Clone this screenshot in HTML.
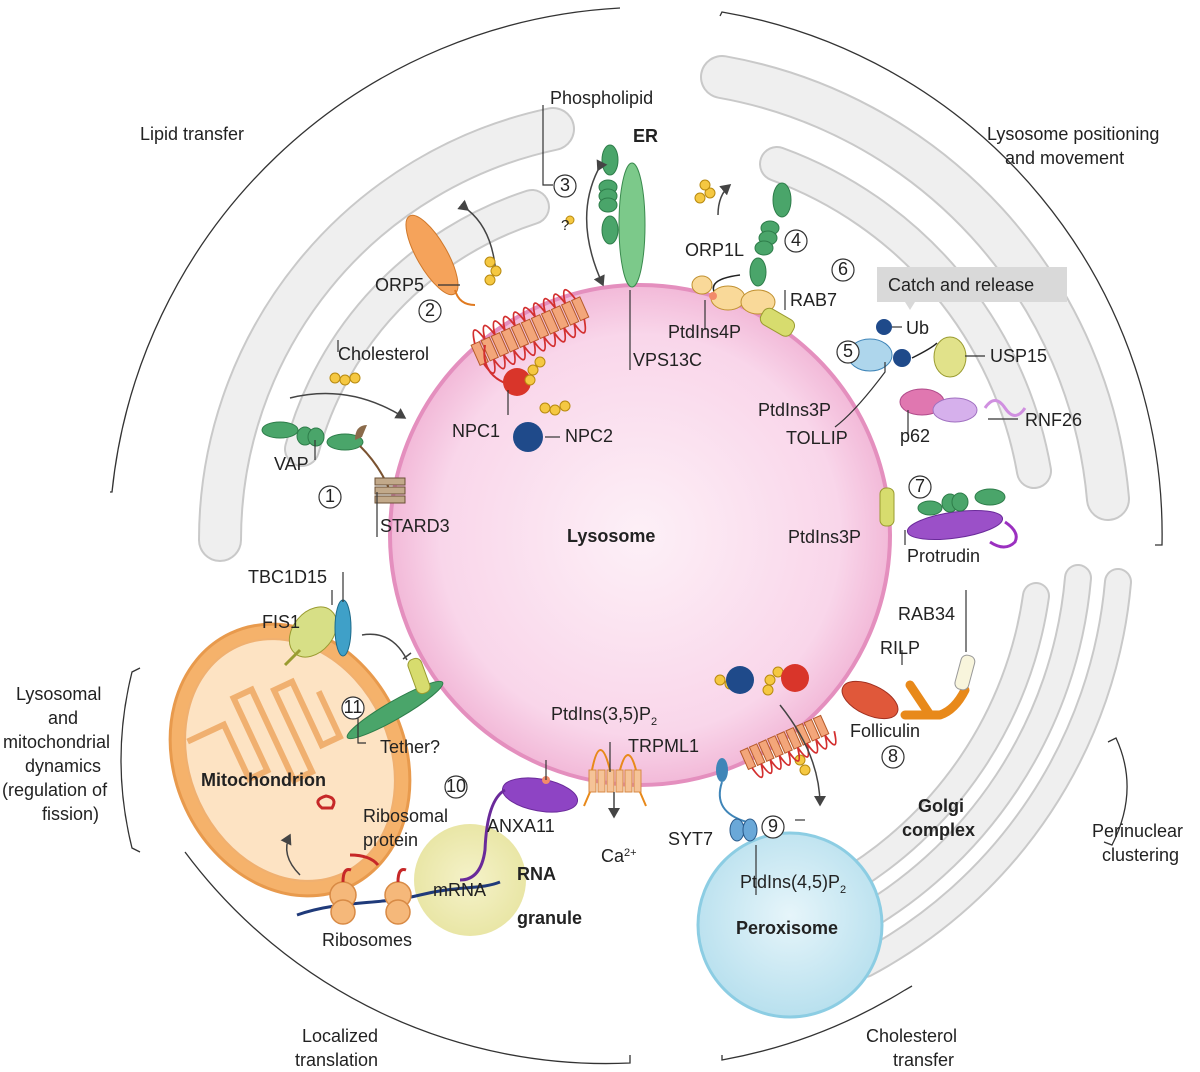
<!DOCTYPE html>
<html><head><meta charset="utf-8"><style>
html,body{margin:0;padding:0;background:#fff;}
svg{display:block}
text{font-family:"Liberation Sans",sans-serif;font-size:18px;fill:#222}
.b{font-weight:bold}
</style></head><body>
<svg width="1200" height="1072" viewBox="0 0 1200 1072" xmlns="http://www.w3.org/2000/svg">
<defs>
<radialGradient id="lys" cx="50%" cy="50%" r="50%"><stop offset="0" stop-color="#fdf0f7"/><stop offset="0.8" stop-color="#f9d6ea"/><stop offset="1" stop-color="#f2b9d8"/></radialGradient>
<radialGradient id="per" cx="50%" cy="45%" r="55%"><stop offset="0" stop-color="#e6f5fa"/><stop offset="1" stop-color="#b8e0ee"/></radialGradient>
<radialGradient id="rna" cx="50%" cy="50%" r="50%"><stop offset="0" stop-color="#f5f2c9"/><stop offset="1" stop-color="#e9e6a6"/></radialGradient>
<marker id="ar" markerWidth="8" markerHeight="8" refX="6" refY="4" orient="auto"><path d="M0,0 L7,4 L0,8 z" fill="#444"/></marker>
</defs>
<g fill="none" stroke-linecap="round">
<path d="M220,540 A420,420 0 0 1 553,129" stroke="#c9c9c9" stroke-width="44"/>
<path d="M220,540 A420,420 0 0 1 553,129" stroke="#efefef" stroke-width="40"/>
<path d="M302,449 A350,350 0 0 1 532,207" stroke="#c9c9c9" stroke-width="36"/>
<path d="M302,449 A350,350 0 0 1 532,207" stroke="#efefef" stroke-width="32"/>
<path d="M722,77 A470,470 0 0 1 1108,499" stroke="#c9c9c9" stroke-width="44"/>
<path d="M722,77 A470,470 0 0 1 1108,499" stroke="#efefef" stroke-width="40"/>
<path d="M777,164 A400,400 0 0 1 1034,471" stroke="#c9c9c9" stroke-width="36"/>
<path d="M777,164 A400,400 0 0 1 1034,471" stroke="#efefef" stroke-width="32"/>
<path d="M1036,596 A400,400 0 0 1 840,886" stroke="#c9c9c9" stroke-width="28"/>
<path d="M1036,596 A400,400 0 0 1 840,886" stroke="#efefef" stroke-width="24"/>
<path d="M1078,578 A440,440 0 0 1 847,928" stroke="#c9c9c9" stroke-width="28"/>
<path d="M1078,578 A440,440 0 0 1 847,928" stroke="#efefef" stroke-width="24"/>
<path d="M1118,582 A480,480 0 0 1 865,964" stroke="#c9c9c9" stroke-width="28"/>
<path d="M1118,582 A480,480 0 0 1 865,964" stroke="#efefef" stroke-width="24"/>
</g>
<g fill="none" stroke="#333" stroke-width="1.3">
<path d="M110,492 L112,492 A540,540 0 0 1 620,8"/>
<path d="M720,16 L722,12 A530,530 0 0 1 1162,545 L1155,545"/>
<path d="M140,668 L132,672 Q110,760 132,848 L140,852"/>
<path d="M185,852 A525,525 0 0 0 630,1063 L630,1055"/>
<path d="M722,1055 L722,1060 A525,525 0 0 0 905,990 L912,986"/>
<path d="M1108,742 L1116,738 Q1140,790 1112,845 L1104,842"/>
</g>
<g transform="rotate(-25 290 760)">
<ellipse cx="290" cy="760" rx="115" ry="140" fill="#f5b26b" stroke="#e89a4d" stroke-width="3"/>
<ellipse cx="290" cy="760" rx="100" ry="125" fill="#fde3c3" stroke="#f0b070" stroke-width="2"/>
<path d="M205,700 h40 v60 h20 v-80 h20 v100 h20 v-90 h20 v70 h20 v-50" fill="none" stroke="#f0b070" stroke-width="6"/>
</g>
<path d="M322,808 q-10,-8 4,-12 q12,2 6,12 z" fill="none" stroke="#c62828" stroke-width="3"/>
<circle cx="470" cy="880" r="56" fill="url(#rna)"/>
<circle cx="790" cy="925" r="92" fill="url(#per)" stroke="#8ccde3" stroke-width="3"/>
<circle cx="640" cy="535" r="250" fill="url(#lys)" stroke="#e48fbe" stroke-width="4"/>
<path d="M297,915 C340,900 380,905 420,895 S480,890 500,882" fill="none" stroke="#1f3a7a" stroke-width="3"/>
<g fill="#f5b87a" stroke="#d88a45" stroke-width="1.5">
<circle cx="343" cy="895" r="13"/><circle cx="343" cy="912" r="12"/>
<circle cx="398" cy="895" r="13"/><circle cx="398" cy="912" r="12"/>
</g>
<path d="M343,882 q0,-15 8,-12 M398,882 q0,-15 8,-12 M350,855 q20,0 28,10" fill="none" stroke="#c62828" stroke-width="3"/>
<path d="M300,875 q-20,-20 -10,-40" fill="none" stroke="#444" stroke-width="1.5" marker-end="url(#ar)"/>
<ellipse cx="540" cy="795" rx="38" ry="16" transform="rotate(10 540 795)" fill="#8e44c4" stroke="#6a2a9a"/>
<path d="M505,790 q-18,10 -20,60 q-4,30 -25,30" fill="none" stroke="#6a2a9a" stroke-width="3"/>
<circle cx="546" cy="780" r="4" fill="#f28b6a"/>
<g fill="#f5c397" stroke="#d88a45">
<rect x="589" y="770" width="7" height="22"/><rect x="598" y="770" width="7" height="22"/><rect x="607" y="770" width="7" height="22"/><rect x="616" y="770" width="7" height="22"/><rect x="625" y="770" width="7" height="22"/><rect x="634" y="770" width="7" height="22"/>
</g>
<path d="M592,770 q8,-40 18,0 M620,770 q8,-30 16,0 M590,792 l-6,14 M640,792 l6,14" fill="none" stroke="#e8891a" stroke-width="2"/>
<path d="M614,792 v25" stroke="#444" stroke-width="1.5" marker-end="url(#ar)"/>
<ellipse cx="395" cy="710" rx="55" ry="9" transform="rotate(-30 395 710)" fill="#4aa56a" stroke="#2e7d4a"/>
<rect x="412" y="658" width="14" height="36" rx="6" transform="rotate(-20 419 676)" fill="#d7dc6e" stroke="#9a9b30"/>
<ellipse cx="313" cy="632" rx="20" ry="28" transform="rotate(40 313 632)" fill="#d7df86" stroke="#9a9b30"/>
<path d="M300,650 l-15,15" stroke="#9a9b30" stroke-width="3"/>
<ellipse cx="343" cy="628" rx="8" ry="28" fill="#3fa0c8" stroke="#1c6a8a"/>
<path d="M362,635 q30,-5 45,25" fill="none" stroke="#444" stroke-width="1.5"/>
<path d="M403,659 l8,-6" stroke="#444" stroke-width="1.5"/>
<ellipse cx="432" cy="255" rx="15" ry="45" transform="rotate(-30 432 255)" fill="#f5a35b" stroke="#d0782a"/>
<path d="M455,290 q4,15 20,15" fill="none" stroke="#e07a20" stroke-width="2"/>
<path d="M468,210 q25,20 28,65" fill="none" stroke="#444" stroke-width="1.5" marker-start="url(#ar)"/>
<g transform="rotate(-24 530 330)">
<g fill="#f3a67a" stroke="#b55a2a">
<rect x="470" y="320" width="9" height="22"/><rect x="481" y="320" width="9" height="22"/><rect x="492" y="320" width="9" height="22"/><rect x="503" y="320" width="9" height="22"/><rect x="514" y="320" width="9" height="22"/><rect x="525" y="320" width="9" height="22"/><rect x="536" y="320" width="9" height="22"/><rect x="547" y="320" width="9" height="22"/><rect x="558" y="320" width="9" height="22"/><rect x="569" y="320" width="9" height="22"/><rect x="580" y="320" width="9" height="22"/>
</g>
<path d="M474,320 q5,-25 11,0 q5,-25 11,0 q5,-25 11,0 q5,-25 11,0 q5,-25 11,0 q5,-25 11,0 q5,-25 11,0 q5,-25 11,0 q5,-25 11,0 q5,-25 11,0 M474,342 q5,25 11,0 q5,25 11,0 q5,25 11,0 q5,25 11,0 q5,25 11,0 q5,25 11,0 q5,25 11,0 q5,25 11,0 q5,25 11,0 q5,25 11,0" fill="none" stroke="#d32f2f" stroke-width="1.8"/>
</g>
<path d="M485,345 q-5,30 25,40" fill="none" stroke="#d32f2f" stroke-width="2"/>
<circle cx="517" cy="382" r="14" fill="#d9352a"/>
<circle cx="528" cy="437" r="15" fill="#1f4a8a"/>
<g fill="#f5c842" stroke="#b88a10" stroke-width="1">
<circle cx="490" cy="262" r="5"/><circle cx="496" cy="271" r="5"/><circle cx="490" cy="280" r="5"/>
<circle cx="335" cy="378" r="5"/><circle cx="345" cy="380" r="5"/><circle cx="355" cy="378" r="5"/>
<circle cx="533" cy="370" r="5"/><circle cx="540" cy="362" r="5"/><circle cx="530" cy="380" r="5"/>
<circle cx="545" cy="408" r="5"/><circle cx="555" cy="410" r="5"/><circle cx="565" cy="406" r="5"/>
<circle cx="700" cy="198" r="5"/><circle cx="710" cy="193" r="5"/><circle cx="705" cy="185" r="5"/>
<circle cx="720" cy="680" r="5"/><circle cx="730" cy="684" r="5"/><circle cx="740" cy="680" r="5"/>
<circle cx="770" cy="680" r="5"/><circle cx="778" cy="672" r="5"/><circle cx="768" cy="690" r="5"/>
<circle cx="800" cy="760" r="5"/><circle cx="805" cy="770" r="5"/>
<circle cx="570" cy="220" r="4"/>
</g>
<g fill="#4aa56a" stroke="#2e7d4a">
<ellipse cx="280" cy="430" rx="18" ry="8"/><ellipse cx="305" cy="436" rx="8" ry="9"/><ellipse cx="316" cy="437" rx="8" ry="9"/><ellipse cx="345" cy="442" rx="18" ry="8"/>
</g>
<path d="M360,446 q20,20 30,45" fill="none" stroke="#7a5230" stroke-width="2"/>
<path d="M355,440 q0,-15 12,-15 l-5,12" fill="#8a6a4a"/>
<g fill="#c2a98a" stroke="#6b5035"><rect x="375" y="478" width="30" height="7"/><rect x="375" y="487" width="30" height="7"/><rect x="375" y="496" width="30" height="7"/></g>
<path d="M290,398 q60,-15 115,20" fill="none" stroke="#444" stroke-width="1.5" marker-end="url(#ar)"/>
<ellipse cx="632" cy="225" rx="13" ry="62" fill="#7cc98a" stroke="#3a8a4e"/>
<g fill="#4aa56a" stroke="#2e7d4a">
<ellipse cx="610" cy="160" rx="8" ry="15"/><ellipse cx="608" cy="187" rx="9" ry="7"/><ellipse cx="608" cy="196" rx="9" ry="7"/><ellipse cx="608" cy="205" rx="9" ry="7"/><ellipse cx="610" cy="230" rx="8" ry="14"/>
</g>
<path d="M598,170 q-25,50 5,115" fill="none" stroke="#444" stroke-width="1.5" marker-end="url(#ar)" marker-start="url(#ar)"/>
<g fill="#4aa56a" stroke="#2e7d4a">
<ellipse cx="782" cy="200" rx="9" ry="17"/><ellipse cx="770" cy="228" rx="9" ry="7"/><ellipse cx="768" cy="238" rx="9" ry="7"/><ellipse cx="764" cy="248" rx="9" ry="7"/><ellipse cx="758" cy="272" rx="8" ry="14"/>
</g>
<path d="M740,275 q-40,5 -20,25 q20,10 50,0" fill="none" stroke="#222" stroke-width="1.5"/>
<ellipse cx="728" cy="298" rx="17" ry="12" fill="#f9d999" stroke="#c09030"/>
<ellipse cx="758" cy="302" rx="17" ry="12" fill="#f9d999" stroke="#c09030"/>
<rect x="768" y="305" width="18" height="35" rx="7" transform="rotate(-60 777 322)" fill="#d7dc6e" stroke="#9a9b30"/>
<ellipse cx="702" cy="285" rx="10" ry="9" fill="#f9d999" stroke="#c09030"/>
<circle cx="713" cy="296" r="4" fill="#f28b6a"/>
<path d="M718,215 q0,-20 12,-30" fill="none" stroke="#444" stroke-width="1.5" marker-end="url(#ar)"/>
<rect x="877" y="267" width="190" height="35" fill="#d9d9d9"/>
<path d="M905,302 l5,8 l5,-8z" fill="#d9d9d9"/>
<ellipse cx="870" cy="355" rx="22" ry="16" fill="#aed6ec" stroke="#3f85b8"/>
<circle cx="902" cy="358" r="9" fill="#1f4a8a"/>
<circle cx="884" cy="327" r="8" fill="#1f4a8a"/>
<ellipse cx="950" cy="357" rx="16" ry="20" fill="#e1e28a" stroke="#9a9b30"/>
<ellipse cx="922" cy="402" rx="22" ry="13" fill="#e077b0" stroke="#b04a8a"/>
<ellipse cx="955" cy="410" rx="22" ry="12" fill="#d6b0ec" stroke="#a070c0"/>
<path d="M985,408 q10,-15 20,0 t20,0" fill="none" stroke="#d090e0" stroke-width="3"/>
<path d="M912,358 q20,-10 25,-15" fill="none" stroke="#222" stroke-width="1.5"/>
<rect x="880" y="488" width="14" height="38" rx="6" fill="#d7dc6e" stroke="#9a9b30"/>
<ellipse cx="955" cy="525" rx="48" ry="13" transform="rotate(-8 955 525)" fill="#9b50c8" stroke="#6a2a9a"/>
<g fill="#4aa56a" stroke="#2e7d4a"><ellipse cx="930" cy="508" rx="12" ry="7"/><ellipse cx="950" cy="503" rx="8" ry="9"/><ellipse cx="960" cy="502" rx="8" ry="9"/><ellipse cx="990" cy="497" rx="15" ry="8"/></g>
<path d="M1005,522 q15,10 10,20 q-10,10 -25,0" fill="none" stroke="#9b30c0" stroke-width="3"/>
<ellipse cx="870" cy="700" rx="30" ry="15" transform="rotate(25 870 700)" fill="#e0583a" stroke="#a03020"/>
<path d="M905,715 h35 M930,715 q-10,-15 -20,-30 M940,715 q15,-5 25,-25" stroke="#e8891a" stroke-width="9" fill="none" stroke-linecap="round"/>
<rect x="958" y="655" width="14" height="35" rx="6" transform="rotate(15 965 672)" fill="#f8f5dc" stroke="#999"/>
<circle cx="740" cy="680" r="14" fill="#1f4a8a"/>
<circle cx="795" cy="678" r="14" fill="#d9352a"/>
<g transform="rotate(-24 790 740)">
<g fill="#f3a67a" stroke="#b55a2a">
<rect x="740" y="730" width="8" height="20"/><rect x="750" y="730" width="8" height="20"/><rect x="760" y="730" width="8" height="20"/><rect x="770" y="730" width="8" height="20"/><rect x="780" y="730" width="8" height="20"/><rect x="790" y="730" width="8" height="20"/><rect x="800" y="730" width="8" height="20"/><rect x="810" y="730" width="8" height="20"/><rect x="820" y="730" width="8" height="20"/>
</g>
<path d="M744,750 q5,25 10,0 q5,25 10,0 q5,25 10,0 q5,25 10,0 q5,25 10,0 q5,25 10,0 q5,25 10,0 q5,25 10,0 q5,25 10,0" fill="none" stroke="#d32f2f" stroke-width="1.8"/>
</g>
<path d="M780,705 q40,50 40,100" fill="none" stroke="#444" stroke-width="1.5" marker-end="url(#ar)"/>
<ellipse cx="722" cy="770" rx="6" ry="12" fill="#3f85b8"/>
<path d="M722,782 q-10,30 25,40" fill="none" stroke="#3f85b8" stroke-width="2"/>
<ellipse cx="737" cy="830" rx="7" ry="11" fill="#6aa8d8" stroke="#2a5a8a"/><ellipse cx="750" cy="830" rx="7" ry="11" fill="#6aa8d8" stroke="#2a5a8a"/>
<g stroke="#333" stroke-width="1.2" fill="none">
<path d="M543,105 v80 h10"/><path d="M630,290 v80"/><path d="M705,300 v30"/><path d="M785,310 v-20"/>
<path d="M460,285 h-22"/><path d="M508,390 v25"/><path d="M560,437 h-15"/>
<path d="M338,352 v-12"/><path d="M315,460 v-20"/><path d="M377,492 v45"/>
<path d="M343,572 v30"/><path d="M332,605 v-15"/>
<path d="M358,718 v25 h8"/><path d="M546,760 v20"/><path d="M610,742 v30"/>
<path d="M885,362 v10 q-30,40 -50,55"/><path d="M908,410 v25"/><path d="M1018,419 h-30"/>
<path d="M892,327 h10"/><path d="M965,356 h20"/>
<path d="M905,530 v15"/><path d="M966,590 v62"/><path d="M902,650 v15"/>
<path d="M756,895 v-50"/><path d="M805,820 h-10"/>
</g>
<g fill="#fff" stroke="#333" stroke-width="1.2">
<circle cx="330" cy="497" r="11"/><circle cx="430" cy="311" r="11"/><circle cx="565" cy="186" r="11"/><circle cx="796" cy="241" r="11"/><circle cx="848" cy="352" r="11"/><circle cx="843" cy="270" r="11"/><circle cx="920" cy="487" r="11"/><circle cx="893" cy="757" r="11"/><circle cx="773" cy="827" r="11"/><circle cx="456" cy="787" r="11"/><circle cx="353" cy="708" r="11"/>
</g>
<g style="font-size:15px" text-anchor="middle">
<text x="330" y="502">1</text><text x="430" y="316">2</text><text x="565" y="191">3</text><text x="796" y="246">4</text><text x="848" y="357">5</text><text x="843" y="275">6</text><text x="920" y="492">7</text><text x="893" y="762">8</text><text x="773" y="832">9</text><text x="456" y="792">10</text><text x="353" y="713">11</text>
</g>
<text x="140" y="140">Lipid transfer</text>
<text x="550" y="104">Phospholipid</text>
<text x="633" y="142" class="b">ER</text>
<text x="561" y="230" style="font-size:15px">?</text>
<text x="987" y="140">Lysosome positioning</text>
<text x="1005" y="164">and movement</text>
<text x="685" y="256">ORP1L</text>
<text x="375" y="291">ORP5</text>
<text x="790" y="306">RAB7</text>
<text x="668" y="338">PtdIns4P</text>
<text x="633" y="366">VPS13C</text>
<text x="888" y="291">Catch and release</text>
<text x="906" y="334">Ub</text>
<text x="990" y="362">USP15</text>
<text x="338" y="360">Cholesterol</text>
<text x="452" y="437">NPC1</text>
<text x="565" y="442">NPC2</text>
<text x="758" y="416">PtdIns3P</text>
<text x="786" y="444">TOLLIP</text>
<text x="900" y="442">p62</text>
<text x="1025" y="426">RNF26</text>
<text x="274" y="470">VAP</text>
<text x="380" y="532">STARD3</text>
<text x="567" y="542" class="b">Lysosome</text>
<text x="788" y="543">PtdIns3P</text>
<text x="907" y="562">Protrudin</text>
<text x="248" y="583">TBC1D15</text>
<text x="262" y="628">FIS1</text>
<text x="898" y="620">RAB34</text>
<text x="880" y="654">RILP</text>
<text x="16" y="700">Lysosomal</text>
<text x="48" y="724">and</text>
<text x="3" y="748">mitochondrial</text>
<text x="25" y="772">dynamics</text>
<text x="2" y="796">(regulation of</text>
<text x="42" y="820">fission)</text>
<text x="551" y="720">PtdIns(3,5)P<tspan style="font-size:11px" dy="5">2</tspan></text>
<text x="628" y="752">TRPML1</text>
<text x="850" y="737">Folliculin</text>
<text x="380" y="753">Tether?</text>
<text x="201" y="786" class="b">Mitochondrion</text>
<text x="363" y="822">Ribosomal</text>
<text x="363" y="846">protein</text>
<text x="487" y="832">ANXA11</text>
<text x="601" y="862">Ca<tspan style="font-size:11px" dy="-6">2+</tspan></text>
<text x="668" y="845">SYT7</text>
<text x="740" y="888">PtdIns(4,5)P<tspan style="font-size:11px" dy="5">2</tspan></text>
<text x="918" y="812" class="b">Golgi</text>
<text x="902" y="836" class="b">complex</text>
<text x="1092" y="837">Perinuclear</text>
<text x="1102" y="861">clustering</text>
<text x="517" y="880" class="b">RNA</text>
<text x="517" y="924" class="b">granule</text>
<text x="433" y="896">mRNA</text>
<text x="322" y="946">Ribosomes</text>
<text x="736" y="934" class="b">Peroxisome</text>
<text x="302" y="1042">Localized</text>
<text x="295" y="1066">translation</text>
<text x="866" y="1042">Cholesterol</text>
<text x="893" y="1066">transfer</text>
</svg>
</body></html>
